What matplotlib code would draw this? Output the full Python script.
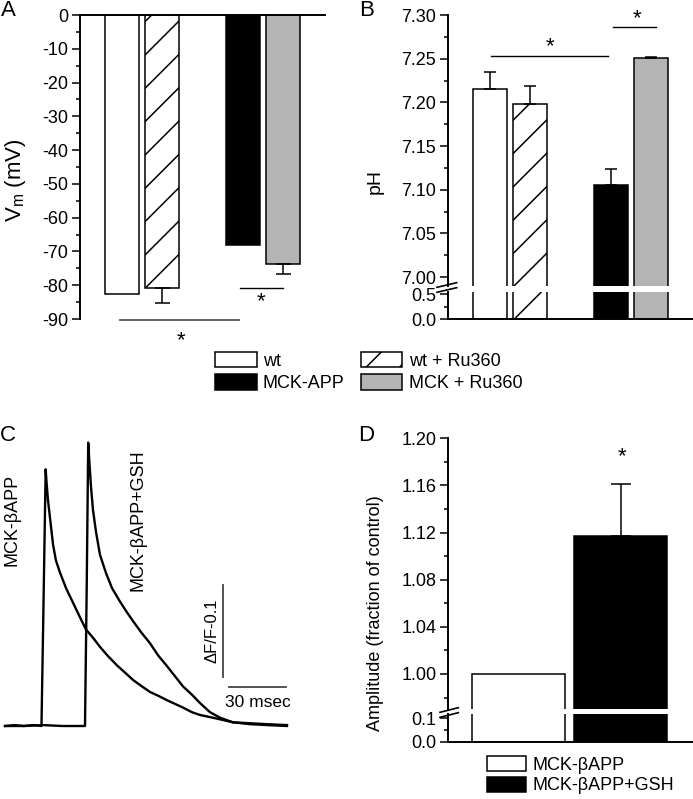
import matplotlib
matplotlib.use('Agg')
import matplotlib.pyplot as plt
import numpy as np
from matplotlib.patches import Patch
from matplotlib.lines import Line2D
from matplotlib.ticker import FormatStrFormatter

plt.rcParams['font.family'] = ['Liberation Sans', 'DejaVu Sans']
plt.rcParams['axes.unicode_minus'] = False
plt.rcParams['mathtext.fontset'] = 'custom'
plt.rcParams['mathtext.rm'] = 'Liberation Sans'
plt.rcParams['mathtext.it'] = 'Liberation Sans:italic'
plt.rcParams['hatch.linewidth'] = 1.1

# ---------------- data ----------------
groups = ['wt', 'wt + Ru360', 'MCK-APP', 'MCK + Ru360']
group_colors = ['white', 'white', 'black', '#b4b4b4']
group_hatches = ['', '/', '', '']

vm_values = [-82.5, -80.7, -68.0, -73.7]      # mV
vm_errors = [0.0, 4.5, 0.0, 3.0]

ph_values = [7.215, 7.198, 7.105, 7.251]
ph_errors = [0.020, 0.021, 0.019, 0.001]

amp_labels = ['MCK-\u03b2APP', 'MCK-\u03b2APP+GSH']
amp_colors = ['white', 'black']
amp_values = [1.000, 1.117]
amp_errors = [0.0, 0.044]

# Ca transients (time in ms, dF/F)
trace1_t = [0.0, 5.0, 10.0, 15.0, 19.2, 20.3, 21.4, 21.8, 22.6, 23.7, 25.3, 26.8, 28.9, 32.1,
            35.8, 39.5, 42.6, 46.3, 50.0, 54.2, 58.9, 63.2, 67.4, 72.1, 76.3, 80.5, 85.3,
            89.5, 93.7, 98.4, 102.6, 111.6, 120.0, 128.9, 137.9, 148.4]
trace1_f = [0.0, 0.001, 0.0, 0.001, 0.0, 0.137, 0.279, 0.267, 0.246, 0.226, 0.197, 0.180,
            0.167, 0.150, 0.134, 0.118, 0.105, 0.096, 0.086, 0.076, 0.066, 0.058, 0.050,
            0.043, 0.037, 0.033, 0.028, 0.024, 0.020, 0.015, 0.012, 0.008, 0.004, 0.003,
            0.002, 0.001]
trace2_t = [0.0, 10.0, 20.0, 30.0, 42.1, 43.0, 43.8, 44.5, 45.3, 46.3, 47.9, 50.0, 53.2, 56.3,
            60.0, 63.7, 67.4, 71.6, 76.3, 80.5, 85.3, 89.5, 93.7, 98.4, 102.6, 107.9, 113.2,
            120.0, 128.9, 137.9, 148.4]
trace2_f = [0.0, 0.0, 0.001, 0.0, 0.0, 0.150, 0.308, 0.284, 0.259, 0.235, 0.211, 0.186,
            0.166, 0.150, 0.137, 0.125, 0.114, 0.102, 0.090, 0.077, 0.065, 0.054, 0.043,
            0.034, 0.025, 0.015, 0.009, 0.004, 0.002, 0.001, 0.0]

# ---------------- layout helpers ----------------
W, H = 693, 799
fig = plt.figure(figsize=(W / 100, H / 100), dpi=100)


def px_axes(x0, y0, x1, y1):
    return fig.add_axes([x0 / W, 1 - y1 / H, (x1 - x0) / W, (y1 - y0) / H])


def ftext(x, y, s, **kw):
    return fig.text(x / W, 1 - y / H, s, **kw)


def fline(xs, ys, **kw):
    fig.add_artist(Line2D([x / W for x in xs], [1 - y / H for y in ys], **kw))


SPW = 1.4
TICKFS = 13


def style_axis(ax, left=True, bottom=False, top=False):
    for s in ['left', 'right', 'top', 'bottom']:
        ax.spines[s].set_visible(False)
        ax.spines[s].set_linewidth(SPW)
    ax.spines['left'].set_visible(left)
    ax.spines['bottom'].set_visible(bottom)
    ax.spines['top'].set_visible(top)
    ax.set_xticks([])
    ax.tick_params(axis='y', which='major', direction='out', length=6, width=1.1,
                   labelsize=TICKFS, pad=2.5)
    ax.tick_params(axis='y', which='minor', direction='out', length=3.2, width=1.1)
    ax.set_facecolor('none')


def draw_bars(ax, pos, vals, width, colors, hatches):
    bars = ax.bar(pos, vals, width, color=colors, edgecolor='black', linewidth=1.1, zorder=2)
    for b, h in zip(bars, hatches):
        if h:
            b.set_hatch(h)
    return bars


pos4 = np.array([1, 2, 4, 5])
w4 = 0.84
xlim4 = (-0.042, 6.037)

# ---------------- Panel A ----------------
axA = px_axes(80, 15, 325, 319)
style_axis(axA, left=True, top=True)
draw_bars(axA, pos4, vm_values, w4, group_colors, group_hatches)
m = np.array(vm_errors) > 0
axA.errorbar(pos4[m], np.array(vm_values)[m],
             yerr=[np.array(vm_errors)[m], np.zeros(m.sum())], fmt='none',
             ecolor='black', elinewidth=1.1, capsize=5.4, capthick=1.1, zorder=3)
axA.set_xlim(*xlim4)
axA.set_ylim(-90, 0)
axA.set_yticks(np.arange(-90, 1, 10))
axA.set_yticks(np.arange(-85, 0, 10), minor=True)
axA.yaxis.set_major_formatter(FormatStrFormatter('%d'))
axA.plot([3.928, 4.995], [-80.8, -80.8], color='black', lw=1.0, clip_on=False)
axA.text(4.449, -85.0, '*', ha='center', va='center', fontsize=16, clip_on=False)
axA.plot([0.95, 3.903], [-90.3, -90.3], color='#555555', lw=1.3, clip_on=False)
axA.text(2.464, -96.5, '*', ha='center', va='center', fontsize=16, clip_on=False)
ftext(15, 180, 'V$_\\mathrm{m}$ (mV)', rotation=90, ha='center', va='center', fontsize=16)
ftext(8, 11, 'A', ha='center', va='center', fontsize=16)

# ---------------- Panel B ----------------
axBt = px_axes(448, 15, 693, 286)
axBb = px_axes(448, 291.7, 693, 319)
style_axis(axBt, left=True)
style_axis(axBb, left=True, bottom=True)
for ax in (axBt, axBb):
    draw_bars(ax, pos4, ph_values, w4, group_colors, group_hatches)
    ax.set_xlim(*xlim4)
axBt.errorbar(pos4, ph_values, yerr=[np.zeros(4), ph_errors], fmt='none',
              ecolor='black', elinewidth=1.1, capsize=4, capthick=1.1, zorder=3)
axBt.set_ylim(6.9897, 7.30)
axBt.set_yticks(np.round(np.arange(7.00, 7.301, 0.05), 3))
axBt.set_yticks(np.round(np.arange(7.025, 7.30, 0.05), 3), minor=True)
axBt.yaxis.set_major_formatter(FormatStrFormatter('%.2f'))
axBb.set_ylim(0, 0.546)
axBb.set_yticks([0.0, 0.5])
axBb.set_yticks([0.25], minor=True)
axBb.yaxis.set_major_formatter(FormatStrFormatter('%.1f'))
axBt.plot([1.017, 3.936], [7.253, 7.253], color='black', lw=1.0, clip_on=False)
axBt.text(2.489, 7.264, '*', ha='center', va='center', fontsize=16, clip_on=False)
axBt.plot([4.052, 5.119], [7.286, 7.286], color='black', lw=1.0, clip_on=False)
axBt.text(4.648, 7.296, '*', ha='center', va='center', fontsize=16, clip_on=False)
fline([437, 456.7], [287.3, 282.7], color='black', lw=1.2)
fline([437, 456.7], [292.3, 287.7], color='black', lw=1.2)
ftext(375.5, 181.5, 'pH', rotation=90, ha='center', va='center', fontsize=14)
ftext(366.5, 11, 'B', ha='center', va='center', fontsize=16)

# legend A/B
handlesAB = [Patch(facecolor=group_colors[0], edgecolor='black', linewidth=1.1, label=groups[0]),
             Patch(facecolor=group_colors[2], edgecolor='black', linewidth=1.1, label=groups[2]),
             Patch(facecolor=group_colors[1], edgecolor='black', linewidth=1.1,
                   hatch=group_hatches[1], label=groups[1]),
             Patch(facecolor=group_colors[3], edgecolor='black', linewidth=1.1, label=groups[3])]
fig.legend(handles=handlesAB, ncol=2, loc='upper left', bbox_to_anchor=(215 / W, 1 - 352 / H),
           frameon=False, fontsize=13, handlelength=2.3, handleheight=0.92,
           handletextpad=0.35, columnspacing=0.9, labelspacing=0.25, borderpad=0,
           borderaxespad=0)

# ---------------- Panel C ----------------
axC = px_axes(0, 425, 300, 745)
axC.set_axis_off()
axC.plot(trace1_t, trace1_f, color='black', lw=1.7, solid_joinstyle='round')
axC.plot(trace2_t, trace2_f, color='black', lw=1.7, solid_joinstyle='round')
axC.set_xlim((0 - 5) / 1.9, (300 - 5) / 1.9)
axC.set_ylim((726 - 745) / 920, (726 - 425) / 920)
axC.plot([114.6, 114.6], [0.053, 0.153], color='#444444', lw=1.3)
axC.plot([117.9, 147.9], [0.042, 0.042], color='#444444', lw=1.3)
axC.text(132.9, 0.026, '30 msec', ha='center', va='center', fontsize=12.5)
axC.text(109.0, 0.103, '\u0394F/F-0.1', rotation=90, ha='center', va='center', fontsize=12)
ftext(11.5, 520, 'MCK-\u03b2APP', rotation=90, ha='center', va='center', fontsize=13)
ftext(137.5, 520, 'MCK-\u03b2APP+GSH', rotation=90, ha='center', va='center', fontsize=13)
ftext(8, 436, 'C', ha='center', va='center', fontsize=16)

# ---------------- Panel D ----------------
pos2 = np.array([1, 2])
w2 = 0.918
axDt = px_axes(448.3, 438.3, 693, 709.3)
axDb = px_axes(448.3, 714.3, 693, 741.7)
style_axis(axDt, left=True)
style_axis(axDb, left=True, bottom=True)
for ax in (axDt, axDb):
    draw_bars(ax, pos2, amp_values, w2, amp_colors, ['', ''])
    ax.set_xlim(0.308, 2.712)
m2 = np.array(amp_errors) > 0
axDt.errorbar(pos2[m2], np.array(amp_values)[m2],
              yerr=[np.zeros(m2.sum()), np.array(amp_errors)[m2]], fmt='none',
              ecolor='black', elinewidth=1.1, capsize=7, capthick=1.1, zorder=3)
axDt.set_ylim(0.970, 1.20)
axDt.set_yticks(np.round(np.arange(1.00, 1.201, 0.04), 3))
axDt.set_yticks(np.round(np.arange(0.98, 1.20, 0.04), 3), minor=True)
axDt.yaxis.set_major_formatter(FormatStrFormatter('%.2f'))
axDb.set_ylim(0, 0.117)
axDb.set_yticks([0.0, 0.1])
axDb.set_yticks([0.05], minor=True)
axDb.yaxis.set_major_formatter(FormatStrFormatter('%.1f'))
axDt.text(2.011, 1.184, '*', ha='center', va='center', fontsize=16, clip_on=False)
fline([440, 458.3], [712.3, 707.7], color='black', lw=1.2)
fline([440, 458.3], [717.3, 712.7], color='black', lw=1.2)
ftext(375, 613, 'Amplitude (fraction of control)', rotation=90, ha='center', va='center',
      fontsize=13)
ftext(366, 436, 'D', ha='center', va='center', fontsize=16)

handlesD = [Patch(facecolor=c, edgecolor='black', linewidth=1.1, label=l)
            for c, l in zip(amp_colors, amp_labels)]
fig.legend(handles=handlesD, ncol=1, loc='upper left', bbox_to_anchor=(486.7 / W, 1 - 756 / H),
           frameon=False, fontsize=13, handlelength=2.2, handleheight=0.92,
           handletextpad=0.35, labelspacing=0.15, borderpad=0, borderaxespad=0)

fig.savefig('out.png', dpi=100)
